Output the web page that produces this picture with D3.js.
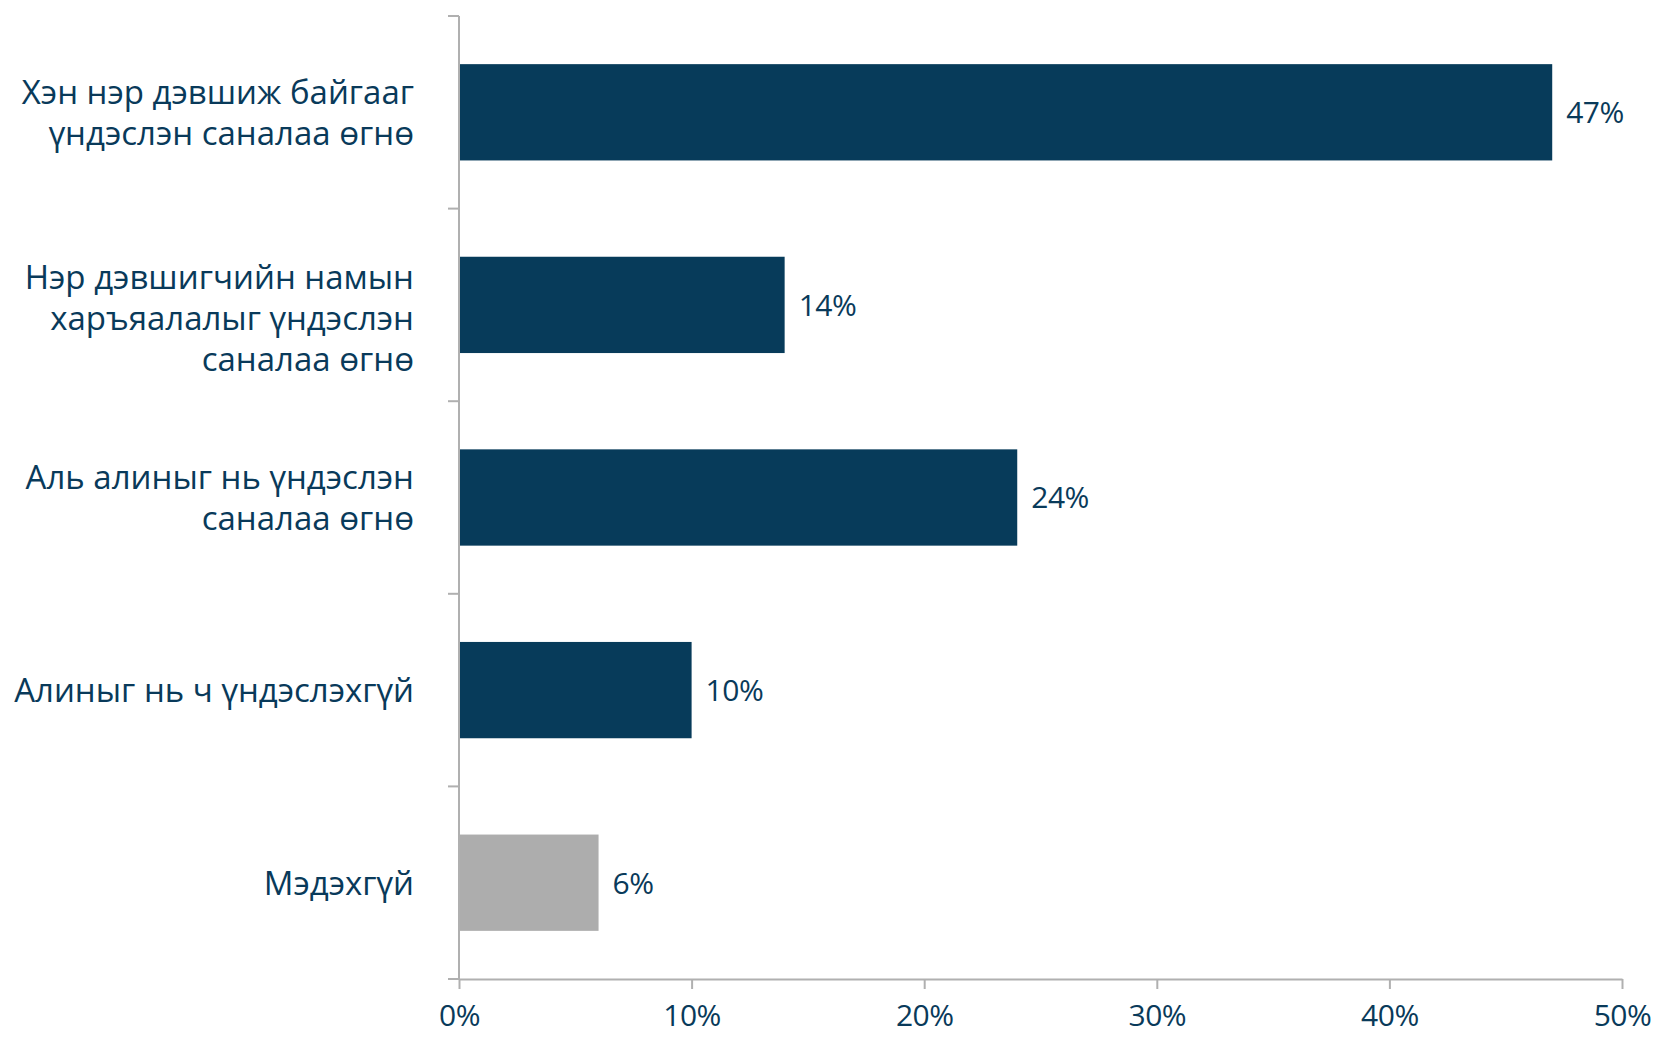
<!DOCTYPE html>
<html>
<head>
<meta charset="utf-8">
<script src="https://cdn.jsdelivr.net/npm/d3@7"></script>
<style>
  html, body { margin: 0; padding: 0; background: #fff; }
  .cat-label { font-family: "Open Sans", "Noto Sans", sans-serif; font-size: 33px; fill: #093a5a; }
  .num { font-family: "Open Sans", "Noto Sans", sans-serif; font-size: 30px; fill: #093a5a; letter-spacing: -0.5px; }
</style>
</head>
<body>
<div class="viz"></div>
<script>
// Data
const categories = [
  ["Хэн нэр дэвшиж байгааг", "үндэслэн саналаа өгнө"],
  ["Нэр дэвшигчийн намын", "харъяалалыг үндэслэн", "саналаа өгнө"],
  ["Аль алиныг нь үндэслэн", "саналаа өгнө"],
  ["Алиныг нь ч үндэслэхгүй"],
  ["Мэдэхгүй"],
];
const values = [0.47, 0.14, 0.24, 0.10, 0.06];
const barColors = ["#073b5a", "#073b5a", "#073b5a", "#073b5a", "#adadad"];
const xTicks = [0, 0.1, 0.2, 0.3, 0.4, 0.5];

const totalWidth = 1657;
const totalHeight = 1037;
const margin = { top: 16, right: 35, bottom: 58, left: 459 };
const width = totalWidth - margin.left - margin.right;
const height = totalHeight - margin.top - margin.bottom;

const svg = d3
  .select(".viz")
  .append("svg")
  .attr("width", totalWidth)
  .attr("height", totalHeight);

const g = svg
  .append("g")
  .attr("transform", `translate(${margin.left},${margin.top})`);

// Scales
const keys = categories.map((d, i) => i);
const xScale = d3.scaleLinear().domain([0, 0.5]).range([0, width]);
const yScale = d3
  .scaleBand()
  .domain(keys)
  .range([0, height])
  .paddingInner(0.5)
  .paddingOuter(0.25);

const axisColor = "#b0b0b0";

// Bars
g.selectAll(".bar")
  .data(values)
  .enter()
  .append("rect")
  .attr("x", 0)
  .attr("y", (d, i) => yScale(i))
  .attr("width", (d) => xScale(d))
  .attr("height", yScale.bandwidth())
  .attr("fill", (d, i) => barColors[i]);

// Value labels
g.selectAll(".value")
  .data(values)
  .enter()
  .append("text")
  .attr("class", "num")
  .attr("x", (d) => xScale(d) + 14)
  .attr("y", (d, i) => yScale(i) + yScale.bandwidth() / 2)
  .attr("dy", "0.36em")
  .text((d) => d3.format(".0%")(d));

// Y axis line and band boundary ticks
g.append("line")
  .attr("x1", 0)
  .attr("x2", 0)
  .attr("y1", 0)
  .attr("y2", height)
  .attr("stroke", axisColor)
  .attr("stroke-width", 2);

const step = yScale.step();
const boundaries = d3.range(categories.length + 1).map((i) => i * step);
g.selectAll(".ytick")
  .data(boundaries)
  .enter()
  .append("line")
  .attr("x1", -11)
  .attr("x2", 0)
  .attr("y1", (d) => d)
  .attr("y2", (d) => d)
  .attr("stroke", axisColor)
  .attr("stroke-width", 2);

// X axis
const xAxis = g
  .append("g")
  .attr("transform", `translate(0,${height})`)
  .call(
    d3.axisBottom(xScale)
      .tickValues(xTicks)
      .tickFormat(d3.format(".0%"))
      .tickSizeInner(10)
      .tickSizeOuter(0)
      .tickPadding(16)
  );
xAxis.select(".domain").attr("stroke", axisColor).attr("stroke-width", 2);
xAxis.selectAll(".tick line").attr("stroke", axisColor).attr("stroke-width", 2);
xAxis
  .selectAll(".tick text")
  .attr("class", "num")
  .attr("fill", null)
  .attr("font-size", null)
  .attr("font-family", null);

// Category labels
const lineHeight = 41;
g.selectAll(".cat")
  .data(categories)
  .enter()
  .append("text")
  .attr("class", "cat-label")
  .attr("text-anchor", "end")
  .each(function (lines, i) {
    const text = d3.select(this);
    const center = yScale(i) + yScale.bandwidth() / 2;
    const shift = lines.length > 2 ? 13 : 0;
    const firstBaseline = center - ((lines.length - 1) * lineHeight) / 2 + 12 + shift;
    lines.forEach((line, j) => {
      text
        .append("tspan")
        .attr("x", -45)
        .attr("y", firstBaseline + j * lineHeight)
        .text(line);
    });
  });
</script>
</body>
</html>
